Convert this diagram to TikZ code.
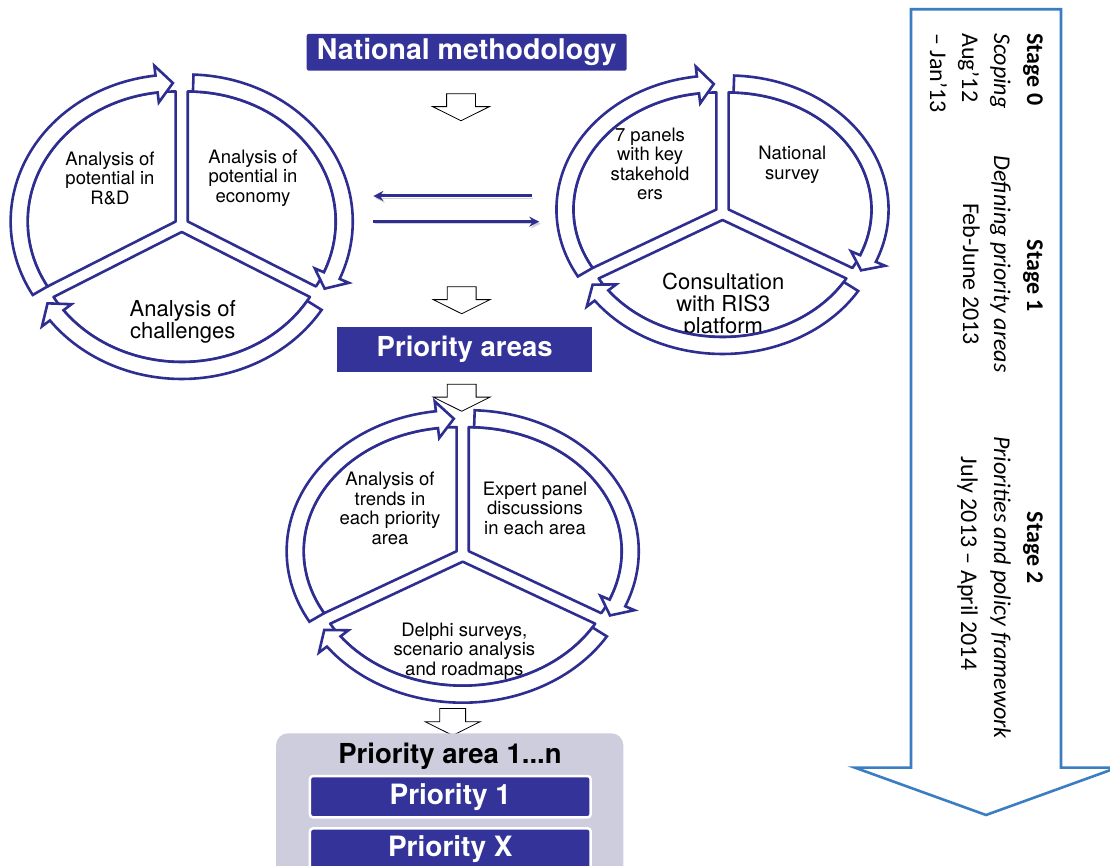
\documentclass[tikz,border=0pt]{standalone}
\usepackage{fontspec}
\setmainfont{TeX Gyre Heros}
\newfontfamily\stagefont{Carlito}
\usetikzlibrary{arrows.meta,shapes.arrows}
\definecolor{cynavy}{RGB}{46,46,145}
\definecolor{cybox}{RGB}{51,51,153}
\definecolor{cypanel}{RGB}{205,205,222}
\definecolor{cyblue}{RGB}{58,125,192}
\tikzstyle{segment}=[draw=cynavy,fill=white,line width=2.6pt,line join=round]
\tikzstyle{band}=[draw=cynavy,fill=white,line width=2.6pt]
\tikzstyle{segtext}=[align=center,inner sep=0pt,font=\fontsize{18.5}{19.5}\selectfont]
\tikzstyle{segbig}=[align=center,inner sep=0pt,font=\fontsize{22}{22}\selectfont]
\tikzstyle{titlebox}=[fill=cybox,text=white,rounded corners=2pt,inner sep=0pt,
  font=\fontsize{28.5}{30}\selectfont\bfseries]
\tikzstyle{hollowdown}=[single arrow,draw=black,fill=white,line width=0.8pt,rotate=-90,
  minimum height=27pt,inner xsep=0pt,inner ysep=14pt,single arrow head extend=14pt,
  single arrow tip angle=127]
\tikzstyle{linkarrow}=[-{Stealth[length=10pt,width=10pt]},draw=cynavy,line width=3pt,
  preaction={draw=black!18,transform canvas={shift={(1.5pt,-2pt)}}}]
\tikzstyle{stagetext}=[rotate=-90,inner sep=0pt,font=\stagefont\fontsize{24}{24}\selectfont]

\begin{document}
\begin{tikzpicture}[x=1pt,y=1pt]
    \useasboundingbox (0,0) rectangle (1110,866);
    \clip (0,0) rectangle (1110,866);

    % ---- centres of the three cycles ----
    \coordinate (rd)  at (181.7,641);
    \coordinate (nat) at (722.5,653);
    \coordinate (pa)  at (462.7,311.3);

    % pie segments, pushed out a little from the centre
    \foreach \cyc/\rx/\ry in {rd/148/130, nat/143/117, pa/153/124} {
      \foreach \sa/\sb in {90/210, -30/90, 210/330}
        \draw[segment] ([shift={({(\sa+\sb)/2}:7pt)}]\cyc) -- ++(\sa:\rx pt and \ry pt)
          arc[start angle=\sa, end angle=\sb, x radius=\rx pt, y radius=\ry pt] -- cycle;
    }

    % ---- segment texts ----
    \node[segtext] (rdtl) at (110,688)   {Analysis of\\potential in\\R\&D};
    \node[segtext] (rdtr) at (253,688)   {Analysis of\\potential in\\economy};
    \node[segbig]  (rdb)  at (182.7,544) {Analysis of\\challenges};
    \node[segtext] (nattl) at (650,702)   {7 panels\\with key\\stakehold\\ers};
    \node[segtext] (nattr) at (792.3,701) {National\\survey};
    \node[segbig]  (natb)  at (723.3,560) {Consultation\\with RIS3\\platform};
    \node[segtext] (patl) at (390,357.7) {Analysis of\\trends in\\each priority\\area};
    \node[segtext] (patr) at (535,357.7) {Expert panel\\discussions\\in each area};
    \node[segtext] (pab)  at (464.3,215) {Delphi surveys,\\scenario analysis\\and roadmaps};

    % curved band arrows round each segment (clockwise)
    \foreach \cyc/\rx/\ry in {rd/148/130, nat/143/117, pa/153/124} {
      \pgfmathsetmacro\ox{\rx+17} \pgfmathsetmacro\oy{\ry+17}
      \pgfmathsetmacro\mx{\rx+8.5} \pgfmathsetmacro\my{\ry+8.5}
      \pgfmathsetmacro\bx{\rx+27} \pgfmathsetmacro\by{\ry+27}
      \pgfmathsetmacro\ix{\rx-10} \pgfmathsetmacro\iy{\ry-10}
      \foreach \bis/\tail/\tip in {150/210/91, 30/88/-29, 270/328/211} {
        \begin{scope}[shift={(\cyc)}, shift={(\bis:7pt)}]
          \draw[band] (\tail:\ox pt and \oy pt)
            arc[start angle=\tail, end angle=\tip+6, x radius=\ox pt, y radius=\oy pt]
            -- ({\tip+6}:\bx pt and \by pt) -- (\tip:\mx pt and \my pt)
            -- ({\tip+6}:\ix pt and \iy pt) -- ({\tip+6}:\rx pt and \ry pt)
            arc[start angle=\tip+6, end angle=\tail, x radius=\rx pt, y radius=\ry pt] -- cycle;
        \end{scope}
      }
    }

    % ---- arrows between the two upper cycles ----
    \coordinate (back1) at (531.7,670);
    \coordinate (back2) at (373.3,670);
    \coordinate (fwd1)  at (373.3,644.3);
    \coordinate (fwd2)  at (539.3,644.3);
    \draw[linkarrow] (back1) -- (back2);
    \draw[linkarrow] (fwd1) -- (fwd2);

    % ---- title boxes and hollow arrows ----
    \node[titlebox,minimum width=320pt,minimum height=36.7pt] (method) at (466.7,813.7) {National methodology};
    \node[hollowdown] (down1) at (461,762.3) {};
    \node[hollowdown] (down2) at (461.7,569.3) {};
    \node[titlebox,rounded corners=0pt,minimum width=254.7pt,minimum height=45pt,
          font=\fontsize{27.5}{30}\selectfont\bfseries] (areas) at (464.7,516.8) {Priority areas};
    \node[hollowdown] (down3) at (461.7,471.8) {};
    \node[hollowdown,inner ysep=12.5pt,single arrow head extend=14.5pt] (down4) at (452.7,147.3) {};

    % ---- list of priorities ----
    \node[fill=cypanel,rounded corners=12pt,minimum width=347.3pt,minimum height=180pt,inner sep=0pt] (panel) at (449.7,42.7) {};
    \node[font=\fontsize{27.5}{28}\selectfont\bfseries,inner sep=0pt] (panelhead) at (450,109.5) {Priority area 1...n};
    \node[titlebox,draw=white,line width=2.5pt,rounded corners=3pt,minimum width=280.7pt,minimum height=41.3pt,
          font=\fontsize{28}{28}\selectfont\bfseries] (prio1) at (450.3,69.3) {Priority 1};
    \node[titlebox,draw=white,line width=2.5pt,rounded corners=3pt,minimum width=280.7pt,minimum height=41.3pt,
          font=\fontsize{28}{28}\selectfont\bfseries] (priox) at (450.3,17) {Priority X};

    % ---- time line of the stages ----
    \draw[cyblue,line width=2.6pt,fill=white] (911,856.7) -- (1061,856.7) -- (1061,98.3) -- (1117,98.3)
      -- (986,51) -- (855,98.3) -- (911,98.3) -- cycle;
    \node[stagetext,font=\stagefont\bfseries\fontsize{24}{24}\selectfont,anchor=base west] (st0) at (1027,833) {Stage 0};
    \node[stagetext,font=\stagefont\itshape\fontsize{24}{24}\selectfont,anchor=base west] (st0a) at (994,833) {Scoping};
    \node[stagetext,anchor=base west] (st0b) at (962,833) {Aug’12};
    \node[stagetext,anchor=base west] (st0c) at (930,833) {– Jan’13};
    \node[stagetext,font=\stagefont\bfseries\fontsize{24}{24}\selectfont,anchor=base] (st1) at (1027,590) {Stage 1};
    \node[stagetext,font=\stagefont\itshape\fontsize{24}{24}\selectfont,anchor=base] (st1a) at (994,602) {Defining priority areas};
    \node[stagetext,anchor=base] (st1b) at (963,592) {Feb-June 2013};
    \node[stagetext,font=\stagefont\bfseries\fontsize{24}{24}\selectfont,anchor=base] (st2) at (1027,318) {Stage 2};
    \node[stagetext,font=\stagefont\itshape\fontsize{24}{24}\selectfont,anchor=base] (st2a) at (994,278.5) {Priorities and policy framework};
    \node[stagetext,anchor=base] (st2b) at (961,302.5) {July 2013 – April 2014};
\end{tikzpicture}
\end{document}
